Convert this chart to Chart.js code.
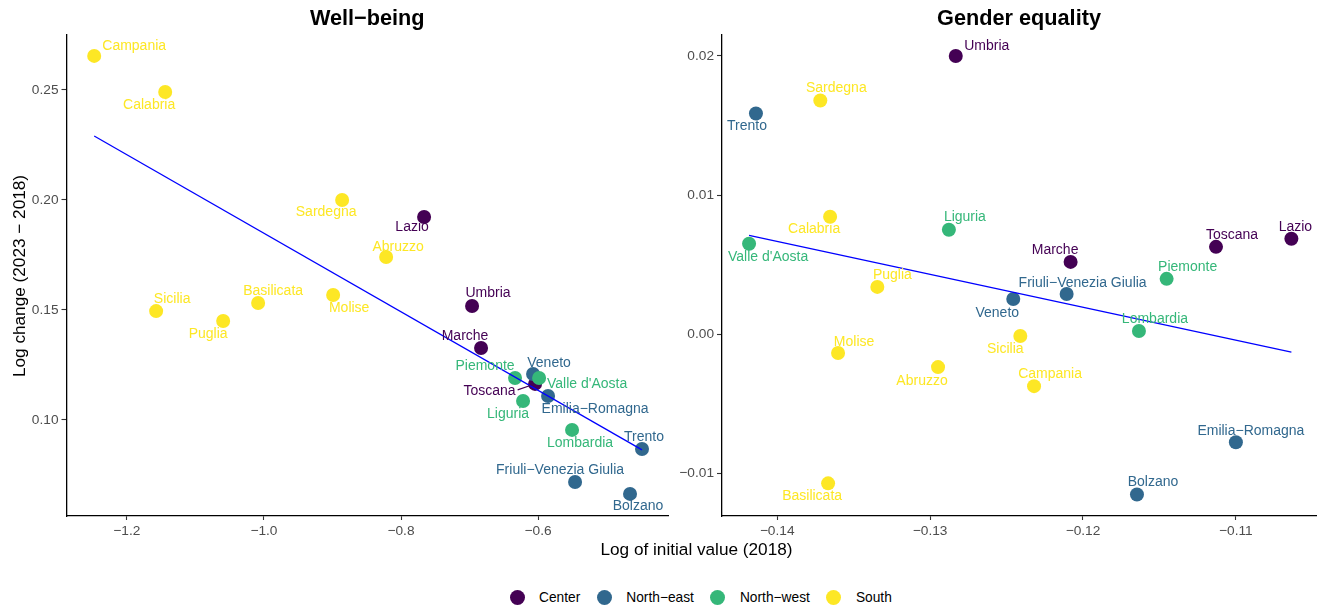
<!DOCTYPE html>
<html><head><meta charset="utf-8">
<script src="https://cdn.jsdelivr.net/npm/chart.js@4.4.1/dist/chart.umd.min.js"></script>
<style>
body{margin:0;background:#fff;width:1323px;height:609px;position:relative;overflow:hidden;font-family:"Liberation Sans",Arial,Helvetica,sans-serif;}
canvas{position:absolute;top:0;}
#c1{left:0}
#c2{left:660px}
.xt{position:absolute;left:0;width:1393px;top:539px;text-align:center;font-size:17.2px;line-height:20px;color:#000;white-space:nowrap}
.yt{position:absolute;left:-131.5px;width:300px;top:265.5px;text-align:center;font-size:17.2px;line-height:20px;transform:rotate(-90deg);color:#000;white-space:nowrap}
#legend{position:absolute;left:509.5px;top:587px;height:20px;display:flex;align-items:center;font-size:13.75px;color:#000;white-space:nowrap}
.sw{width:15px;height:15px;border-radius:50%;margin-right:14.5px;flex:none}
.it{margin-right:16.5px}
</style></head>
<body>
<canvas id="c1" width="680" height="540"></canvas>
<canvas id="c2" width="663" height="540"></canvas>
<div class="xt">Log of initial value (2018)</div>
<div class="yt">Log change (2023 − 2018)</div>
<div id="legend"></div>
<script>
// ---------------- data ----------------
const regions = ["Abruzzo","Basilicata","Bolzano","Calabria","Campania","Emilia−Romagna","Friuli−Venezia Giulia","Lazio","Liguria","Lombardia","Marche","Molise","Piemonte","Puglia","Sardegna","Sicilia","Toscana","Trento","Umbria","Valle d'Aosta","Veneto"];
const regionGroup = ["South","South","North−east","South","South","North−east","North−east","Center","North−west","North−west","Center","South","North−west","South","South","South","Center","North−east","Center","North−west","North−east"];
const groups = ["Center","North−east","North−west","South"];
const groupColors = ["#440154","#31688E","#35B779","#FDE725"];

const wellbeingX = [-0.8217,-1.0085,-0.4658,-1.1441,-1.2477,-0.5854,-0.5460,-0.7663,-0.6219,-0.5504,-0.6832,-0.8990,-0.6336,-1.0595,-0.8859,-1.1573,-0.6044,-0.4483,-0.6963,-0.5985,-0.6073];
const wellbeingY = [0.1741,0.1532,0.0664,0.2491,0.2655,0.1109,0.0718,0.1923,0.1086,0.0955,0.1327,0.1568,0.1191,0.1450,0.2000,0.1495,0.1164,0.0868,0.1518,0.1191,0.1209];
const genderX = [-0.12948,-0.13667,-0.11647,-0.13654,-0.1232,-0.1100,-0.12107,-0.10637,-0.12877,-0.11634,-0.12081,-0.13602,-0.11453,-0.13345,-0.13718,-0.1241,-0.1113,-0.14139,-0.12832,-0.14184,-0.12456];
const genderY = [-0.00238,-0.01074,-0.01154,0.00844,-0.00375,-0.00779,0.00288,0.00685,0.0075,0.00022,0.00519,-0.00137,0.00397,0.00339,0.0168,-0.00014,0.00627,0.01586,0.0200,0.00649,0.00252];

const wellbeingFitX = [-1.2477,-0.4483];
const wellbeingFitY = [0.2291,0.0864];
const genderFitX = [-0.14184,-0.10637];
const genderFitY = [0.0071,-0.0013];

const wellbeingXTicks = [-1.2,-1.0,-0.8,-0.6];
const wellbeingYTicks = [0.10,0.15,0.20,0.25];
const genderXTicks = [-0.14,-0.13,-0.12,-0.11];
const genderYTicks = [-0.01,0.00,0.01,0.02];

// ---------------- layout (label offsets in px: dx, dy, segment) ----------------
const wellbeingLabelOffsets = {
 "Abruzzo":[12,-10],"Basilicata":[15,-12],"Bolzano":[8,12],"Calabria":[-16,13],"Campania":[40,-10],
 "Emilia−Romagna":[47,13],"Friuli−Venezia Giulia":[-15,-12],"Lazio":[-12,10],"Liguria":[-15,13],
 "Lombardia":[8,13],"Marche":[-16,-12],"Molise":[16,13],"Piemonte":[-30,-12],"Puglia":[-15,13],
 "Sardegna":[-16,12],"Sicilia":[16,-12],"Toscana":[-45.5,7,true],"Trento":[2,-12],"Umbria":[16,-13],
 "Valle d'Aosta":[48,6],"Veneto":[16,-11]
};
const genderLabelOffsets = {
 "Abruzzo":[-16,14],"Basilicata":[-16,13],"Bolzano":[16,-12],"Calabria":[-16,12],"Campania":[16,-12],
 "Emilia−Romagna":[15,-11],"Friuli−Venezia Giulia":[16,-11],"Lazio":[4,-12],"Liguria":[16,-13],
 "Lombardia":[16,-12],"Marche":[-15.5,-12],"Molise":[16,-11],"Piemonte":[21,-12],"Puglia":[15,-12],
 "Sardegna":[16,-12],"Sicilia":[-15,13],"Toscana":[16,-12],"Trento":[-9,13],"Umbria":[31,-10],
 "Valle d'Aosta":[19,13],"Veneto":[-16,14]
};

const FONT = '"Liberation Sans", Arial, Helvetica, sans-serif';
function fmt(v, d){ const s = Math.abs(v).toFixed(d); return (v < -1e-12 ? "−" : "") + s; }
function colorOf(g){ return groupColors[groups.indexOf(g)]; }

function labelPlugin(title, xs, ys, offs){
  return {
    id: 'labels',
    afterDatasetsDraw(chart){
      const ctx = chart.ctx, sx = chart.scales.x, sy = chart.scales.y;
      ctx.save();
      ctx.font = '14px ' + FONT;
      ctx.textAlign = 'center';
      ctx.textBaseline = 'middle';
      regions.forEach((r, i) => {
        const px = sx.getPixelForValue(xs[i]), py = sy.getPixelForValue(ys[i]);
        const o = offs[r];
        const col = colorOf(regionGroup[i]);
        ctx.fillStyle = col;
        const lx = px + o[0], ly = py + o[1];
        ctx.fillText(r, lx, ly);
        if (o[2]) {
          const w = ctx.measureText(r).width;
          const x0 = lx + w/2 + 2, y0 = ly - 1;
          const dx = px - x0, dy = py - y0, L = Math.hypot(dx, dy);
          ctx.strokeStyle = col; ctx.lineWidth = 1.2;
          ctx.beginPath(); ctx.moveTo(x0, y0); ctx.lineTo(px - dx/L*5, py - dy/L*5); ctx.stroke();
        }
      });
      ctx.fillStyle = '#000';
      ctx.font = 'bold 21.7px ' + FONT;
      ctx.textBaseline = 'alphabetic';
      ctx.fillText(title, (chart.chartArea.left + chart.chartArea.right)/2, 25);
      ctx.restore();
    }
  };
}

function buildChart(canvasId, title, xs, ys, fitX, fitY, xTicks, yTicks, xDec, yDec, xMin, xMax, yMin, yMax, yWidth, padRight, offs){
  const datasets = [{
    type: 'line',
    data: fitX.map((x, i) => ({x: x, y: fitY[i]})),
    borderColor: '#0000FF', borderWidth: 1.3, pointRadius: 0, fill: false, tension: 0
  }];
  groups.slice().reverse().forEach(g => {
    const pts = [];
    regions.forEach((r, i) => { if (regionGroup[i] === g) pts.push({x: xs[i], y: ys[i]}); });
    datasets.push({
      type: 'scatter', label: g, data: pts,
      backgroundColor: colorOf(g), borderWidth: 0,
      pointRadius: 7, pointHoverRadius: 7
    });
  });
  const tickFont = {family: FONT, size: 13.7};
  return new Chart(document.getElementById(canvasId), {
    type: 'scatter',
    data: {datasets},
    options: {
      responsive: false, animation: false, devicePixelRatio: 1,
      layout: {padding: {top: 35, left: 0, right: padRight, bottom: 0}},
      plugins: {legend: {display: false}, tooltip: {enabled: false}, title: {display: false}},
      scales: {
        x: {
          type: 'linear', min: xMin, max: xMax,
          afterBuildTicks: s => { s.ticks = xTicks.map(v => ({value: v})); },
          afterFit: s => { s.height = 24; },
          ticks: {autoSkip: false, maxRotation: 0, color: '#4D4D4D', font: tickFont, padding: 3, callback: v => fmt(v, xDec)},
          grid: {display: true, drawOnChartArea: false, drawTicks: true, tickLength: 4, tickColor: '#333', tickWidth: 1.1},
          border: {display: true, color: '#000', width: 1.3}
        },
        y: {
          type: 'linear', min: yMin, max: yMax,
          afterBuildTicks: s => { s.ticks = yTicks.map(v => ({value: v})); },
          afterFit: s => { s.width = yWidth; },
          ticks: {autoSkip: false, color: '#4D4D4D', font: tickFont, padding: 3, callback: v => fmt(v, yDec)},
          grid: {display: true, drawOnChartArea: false, drawTicks: true, tickLength: 5, tickColor: '#333', tickWidth: 1.1},
          border: {display: true, color: '#000', width: 1.3}
        }
      }
    },
    plugins: [labelPlugin(title, xs, ys, offs)]
  });
}

buildChart('c1', 'Well−being', wellbeingX, wellbeingY, wellbeingFitX, wellbeingFitY,
  wellbeingXTicks, wellbeingYTicks, 1, 2, -1.2881, -0.4104, 0.05636, 0.275, 66.5, 12, wellbeingLabelOffsets);
buildChart('c2', 'Gender equality', genderX, genderY, genderFitX, genderFitY,
  genderXTicks, genderYTicks, 2, 2, -0.14361, -0.10476, -0.01309, 0.02151, 62, 1, genderLabelOffsets);

// legend
const leg = document.getElementById('legend');
groups.forEach((g, i) => {
  const sw = document.createElement('span'); sw.className = 'sw'; sw.style.background = groupColors[i];
  const t = document.createElement('span'); t.className = 'it'; t.textContent = g;
  leg.appendChild(sw); leg.appendChild(t);
});
</script>
</body></html>
